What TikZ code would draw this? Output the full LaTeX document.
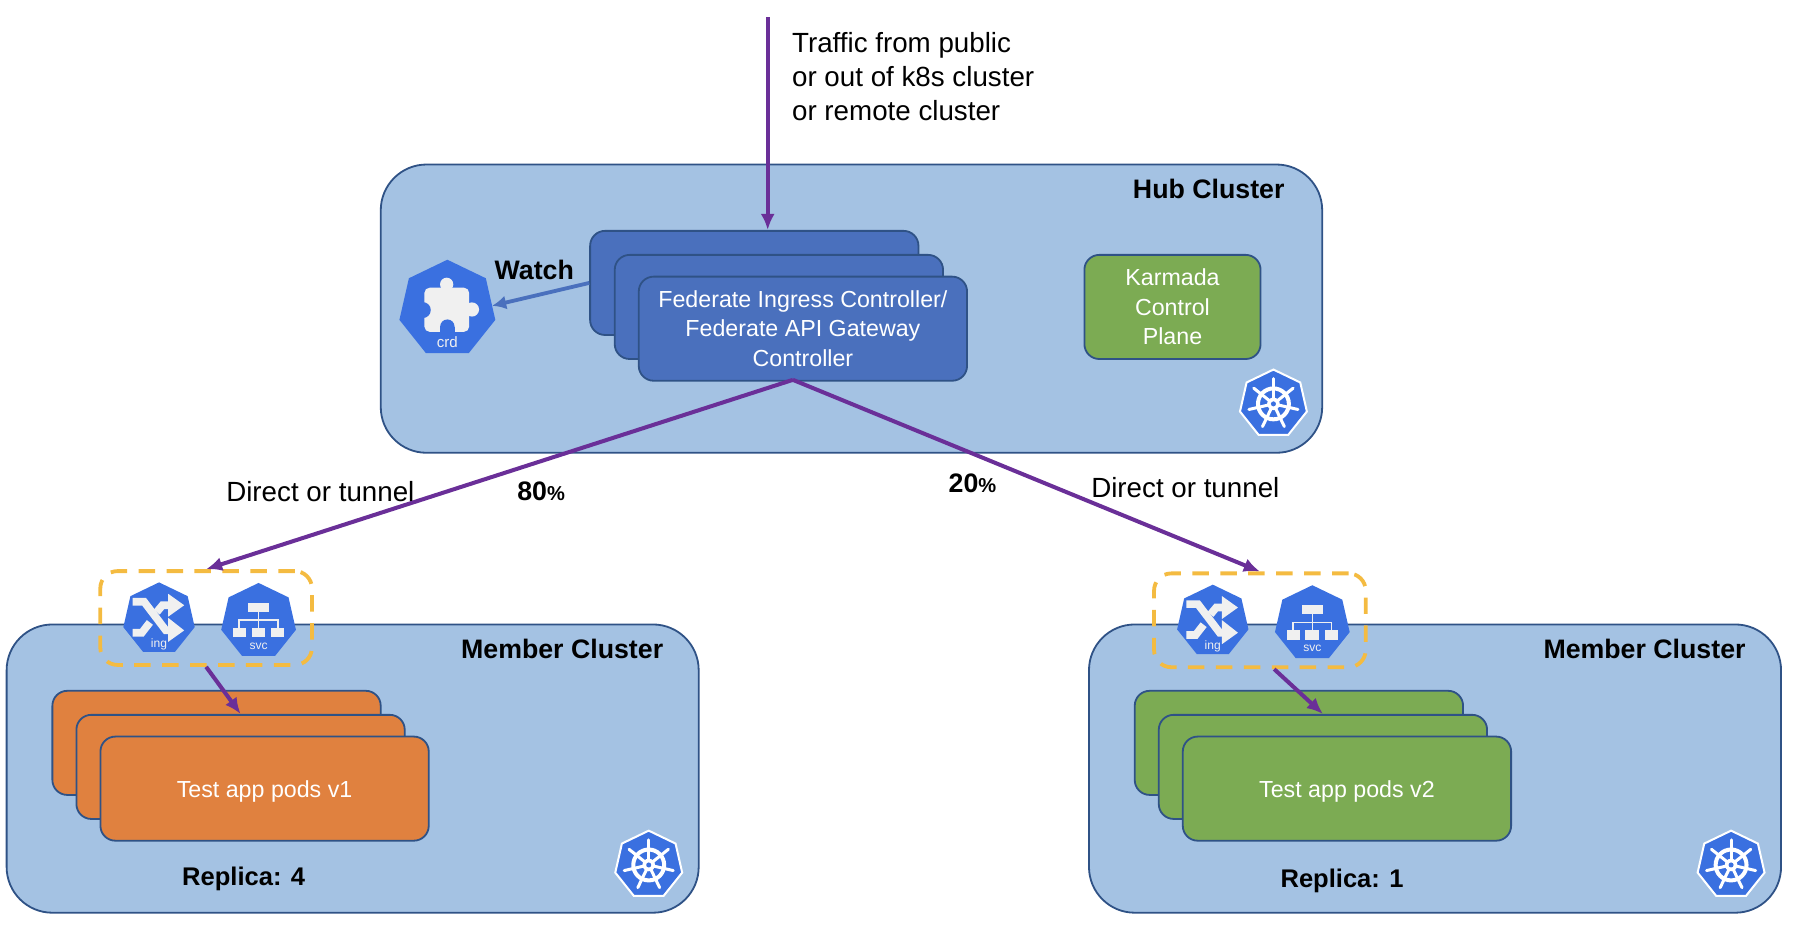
\documentclass[tikz,border=0pt]{standalone}
\usepackage{fontspec}
\setmainfont{Liberation Sans}
\usetikzlibrary{shapes.geometric,arrows.meta}
\definecolor{clusterblue}{HTML}{A4C2E3}
\definecolor{borderblue}{HTML}{2F5286}
\definecolor{ctrlblue}{HTML}{4A70BD}
\definecolor{podgreen}{HTML}{7CAB53}
\definecolor{podorange}{HTML}{E0813F}
\definecolor{flowpurple}{HTML}{6A2F98}
\definecolor{dashyellow}{HTML}{F4BB41}
\definecolor{kubeblue}{HTML}{3A70E0}
\definecolor{iconwhite}{HTML}{F0F0F0}
\tikzset{
  plain/.style={font=\fontsize{13.8}{17}\selectfont, inner sep=0pt},
  heavy/.style={font=\fontsize{13.3}{17}\selectfont\bfseries, inner sep=0pt},
  clusterbox/.style={draw=borderblue, line width=0.9pt, fill=clusterblue, rounded corners=0.8cm, anchor=north west, inner sep=0pt},
  stackbox/.style={draw=borderblue, line width=0.9pt, rounded corners=0.26cm, anchor=north west, minimum width=5.74cm, minimum height=1.82cm, inner sep=0pt, text=white, align=center, font=\fontsize{11.55}{14.6}\selectfont},
  groupbox/.style={draw=dashyellow, line width=1.9pt, rounded corners=0.3cm, dash pattern=on 8.2pt off 5.7pt, anchor=north west, inner sep=0pt, minimum height=1.64cm, minimum width=3.7cm},
  flow/.style={draw=flowpurple, line width=2pt, -{Latex[length=8pt,width=7pt]}},
  hept/.style={regular polygon, regular polygon sides=7, fill=kubeblue, inner sep=0pt, outer sep=0pt},
  tiny label/.style={text=iconwhite, font=\fontsize{6}{7}\selectfont, inner sep=0pt},
  pics/helmwheel/.style={code={
    \node[hept, draw=white, line width=1pt, minimum size=1.2cm] (-hex) at (0,0) {};
    \draw[white, line width=2pt] (0,0) circle (13.5);
    \fill[white] (0,0) circle (5.5);
    \foreach \a in {0,...,6} {
      \draw[white, line width=1.5pt, line cap=round] (0,0) -- (-90+\a*360/7:22);
    }
    \fill[kubeblue] (0,0) circle (2.2);
  }},
  pics/crdicon/.style={code={
    \node[hept, minimum size=1.72cm] (-hex) at (0,0) {};
    \fill[iconwhite, rounded corners=2.5] (-20,-18.5) rectangle (19,20);
    \fill[iconwhite] (-0.6,-21.5) circle (5.8);
    \fill[iconwhite] (21.5,0.5) circle (6.2);
    \fill[kubeblue] (-21.5,1) circle (7);
    \fill[kubeblue] (0,15.5) circle (6.3);
    \fill[kubeblue] (-6.3,15.5) rectangle (6.3,21);
    \node[tiny label, font=\fontsize{7.5}{9}\selectfont] (-text) at (0,28.6) {crd};
  }},
  pics/ingicon/.style={code={
    \node[hept, minimum size=1.28cm] (-hex) at (0,0) {};
    \draw[iconwhite, line width=3.8pt] (-23,-15) -- (-13,-15) -- (6,10) -- (10,10);
    \fill[iconwhite] (8,-1) -- (22,10) -- (8,20) -- cycle;
    \draw[iconwhite, line width=3.8pt] (-23,12) -- (-15,12) -- (-8,3);
    \draw[iconwhite, line width=3.8pt] (-2,-6) -- (3,-12) -- (10,-12);
    \fill[iconwhite] (8,-22) -- (22,-12) -- (8,-2) -- cycle;
    \node[tiny label] (-text) at (0,22) {ing};
  }},
  pics/svcicon/.style={code={
    \node[hept, minimum size=1.34cm] (-hex) at (0,0) {};
    \fill[iconwhite] (-9,-16) rectangle (9,-8);
    \fill[iconwhite] (-22.5,6) rectangle (-11,14);
    \fill[iconwhite] (-6,6) rectangle (6,14);
    \fill[iconwhite] (11,6) rectangle (22.5,14);
    \draw[iconwhite, line width=0.7pt] (0,-8) -- (0,6);
    \draw[iconwhite, line width=0.7pt] (-17,6) -- (-17,-1) -- (17,-1) -- (17,6);
    \node[tiny label] (-text) at (0,22) {svc};
  }}
}
\begin{document}
\begin{tikzpicture}[x=0.02cm, y=-0.02cm]
\useasboundingbox (0,0) rectangle (1568,814.6);

% clusters
\node[clusterbox, minimum width=16.46cm, minimum height=5.04cm] (hub) at (332,143) {};
\node[clusterbox, minimum width=12.1cm, minimum height=5.04cm] (memberleft) at (5,545) {};
\node[clusterbox, minimum width=12.1cm, minimum height=5.04cm] (memberright) at (951,545) {};
\node[heavy, anchor=east] (hublabel) at (1123,165) {Hub Cluster};
\node[heavy, anchor=east] (leftlabel) at (580,567) {Member Cluster};
\node[heavy, anchor=east] (rightlabel) at (1526,567) {Member Cluster};

% controller stack
\node[stackbox, fill=ctrlblue] (fedback) at (515,201) {};
\node[stackbox, fill=ctrlblue] (fedmid) at (536.5,222) {};
\node[stackbox, fill=ctrlblue] (fedfront) at (557.5,241) {Federate Ingress Controller/\\Federate API Gateway\\Controller};
\node[stackbox, fill=podgreen, minimum width=3.08cm] (karmada) at (947,222) {Karmada\\Control\\Plane};

% pods
\node[stackbox, fill=podorange] (poda1) at (45,603) {};
\node[stackbox, fill=podorange] (poda2) at (66,624) {};
\node[stackbox, fill=podorange] (poda3) at (87,643) {\raisebox{-4.2pt}[0pt][0pt]{Test app pods v1}};
\node[stackbox, fill=podgreen] (podb1) at (991,603) {};
\node[stackbox, fill=podgreen] (podb2) at (1012,624) {};
\node[stackbox, fill=podgreen] (podb3) at (1033,643) {\raisebox{-4.2pt}[0pt][0pt]{Test app pods v2}};
\node[heavy, font=\fontsize{12.7}{17}\selectfont\bfseries] (replicaa) at (213,768) {Replica: 4};
\node[heavy, font=\fontsize{12.7}{17}\selectfont\bfseries] (replicab) at (1173,770) {Replica: 1};

% ingress groups
\node[groupbox] (groupa) at (86,497.5) {};
\node[groupbox] (groupb) at (1007,499.5) {};

% icons
\pic (crd) at (391,270) {crdicon};
\pic (inga) at (139,541) {ingicon};
\pic (svca) at (226,543) {svcicon};
\pic (ingb) at (1060,543) {ingicon};
\pic (svcb) at (1147,545) {svcicon};
\pic (wheelhub) at (1113,353) {helmwheel};
\pic (wheela) at (567,756) {helmwheel};
\pic (wheelb) at (1513,756) {helmwheel};

% traffic
\coordinate (source) at (671,15);
\coordinate (fedout) at (693,332);
\draw[flow] (source) -- (source |- fedback.north);
\draw[flow] (fedout) -- (groupa.north);
\draw[flow] (fedout) -- (groupb.north);
\draw[flow] (groupa.south) -- (poda2.north);
\draw[flow] ([xshift=0.25cm]groupb.south) -- (podb2.north);
\draw[draw=ctrlblue, line width=1.9pt, -{Latex[length=7pt,width=7pt]}] (fedback.west) -- (crd-hex.4);

\node[plain, anchor=north west, align=left] (traffic) at (692,28) {Traffic from public\\or out of k8s cluster\\or remote cluster};
\node[heavy] (watch) at (467,236) {Watch};
\node[plain] (tunnela) at (280,429.5) {Direct or tunnel};
\node[plain] (tunnelb) at (1036,426.5) {Direct or tunnel};
\node[heavy] (shareeighty) at (473,429) {80{\fontsize{10}{12}\selectfont\%}};
\node[heavy] (sharetwenty) at (850,422) {20{\fontsize{10}{12}\selectfont\%}};
\end{tikzpicture}
\end{document}
